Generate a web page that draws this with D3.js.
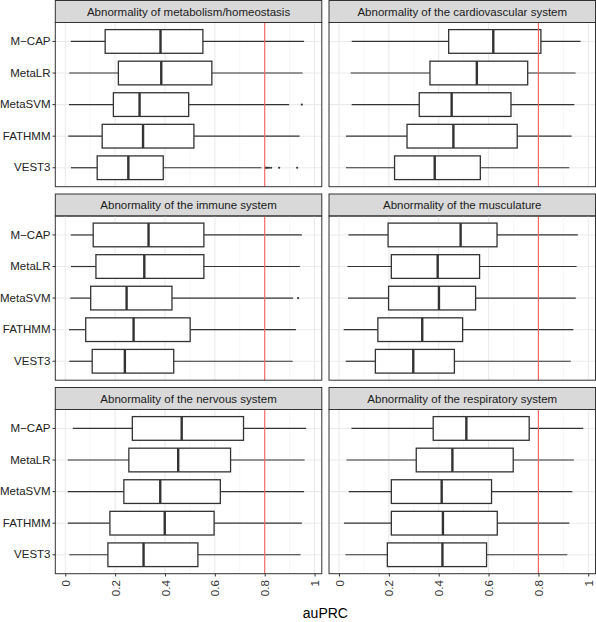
<!DOCTYPE html>
<html><head><meta charset="utf-8">
<script src="https://cdn.jsdelivr.net/npm/d3@7"></script>
<style>body{margin:0;background:#fff}svg{display:block;font-family:"Liberation Sans",Arial,sans-serif}</style>
</head><body>
<svg id="chart" width="596" height="622"></svg>
<script>
const categories = ["M\u2212CAP","MetaLR","MetaSVM","FATHMM","VEST3"];
const panelTitles = ["Abnormality of metabolism/homeostasis","Abnormality of the cardiovascular system","Abnormality of the immune system","Abnormality of the musculature","Abnormality of the nervous system","Abnormality of the respiratory system"];
// [lower whisker, q1, median, q3, upper whisker] per category
const metabolism = [[0.022,0.160,0.382,0.552,0.958],[0.016,0.213,0.385,0.588,0.952],[0.015,0.193,0.298,0.495,0.898],[0.012,0.148,0.312,0.516,0.940],[0.023,0.128,0.253,0.393,0.787]];
const cardiovascular = [[0.051,0.440,0.619,0.810,0.969],[0.047,0.365,0.553,0.757,0.949],[0.051,0.322,0.452,0.690,0.944],[0.028,0.273,0.459,0.715,0.933],[0.028,0.223,0.384,0.567,0.924]];
const immune = [[0.022,0.112,0.334,0.556,0.949],[0.023,0.123,0.317,0.556,0.941],[0.020,0.102,0.246,0.428,0.914],[0.015,0.082,0.274,0.501,0.925],[0.016,0.108,0.239,0.435,0.912]];
const musculature = [[0.038,0.197,0.488,0.634,0.958],[0.034,0.210,0.396,0.564,0.953],[0.036,0.199,0.401,0.548,0.950],[0.019,0.156,0.334,0.496,0.940],[0.027,0.146,0.298,0.463,0.930]];
const nervous = [[0.030,0.269,0.467,0.715,0.966],[0.010,0.255,0.453,0.663,0.960],[0.010,0.235,0.381,0.622,0.958],[0.010,0.179,0.399,0.597,0.949],[0.016,0.171,0.314,0.532,0.944]];
const respiratory = [[0.050,0.378,0.511,0.763,0.980],[0.030,0.310,0.455,0.699,0.942],[0.039,0.210,0.412,0.612,0.936],[0.020,0.210,0.417,0.635,0.924],[0.026,0.194,0.415,0.592,0.916]];
// outliers: [categoryIndex, value]
const metabolismOutliers = [[2,0.949],[4,0.803],[4,0.807],[4,0.812],[4,0.818],[4,0.826],[4,0.858],[4,0.930]];
const immuneOutliers = [[2,0.934]];
const xTicks = [0,0.2,0.4,0.6,0.8,1];
const xMinor = [0.1,0.3,0.5,0.7,0.9];
const threshold = 0.8;

const panelStats = [metabolism,cardiovascular,immune,musculature,nervous,respiratory];
const panelOutliers = [metabolismOutliers,[],immuneOutliers,[],[],[]];

const svg = d3.select("#chart");
const colX = [55.3, 329];
const panelW = 266.5;
const stripH = 22, panelH = 164.2, gap = 7.3, top0 = 0.5;

panelStats.forEach((stats, i) => {
  const col = i % 2, row = Math.floor(i / 2);
  const x0 = colX[col];
  const sy = top0 + row * (stripH + panelH + gap);
  const py = sy + stripH;
  const x = d3.scaleLinear().domain([-0.04, 1.029]).range([x0, x0 + panelW]);
  const y = d3.scaleBand().domain(categories).range([py, py + panelH]).paddingOuter(0.1).paddingInner(0);
  const yc = c => y(c) + y.bandwidth() / 2;
  const bw = y.step() * 0.75;
  const g = svg.append("g");
  // strip
  g.append("rect").attr("x", x0).attr("y", sy).attr("width", panelW).attr("height", stripH)
    .attr("fill", "#D9D9D9").attr("stroke", "#333").attr("stroke-width", 1);
  g.append("text").attr("x", x0 + panelW / 2).attr("y", sy + stripH / 2 + 4)
    .attr("text-anchor", "middle").attr("font-size", 11.5).attr("fill", "#1A1A1A").text(panelTitles[i]);
  // grid
  g.selectAll(".minor").data(xMinor).join("line")
    .attr("x1", d => x(d)).attr("x2", d => x(d)).attr("y1", py).attr("y2", py + panelH)
    .attr("stroke", "#F2F2F2").attr("stroke-width", 0.6);
  g.selectAll(".major").data(xTicks).join("line")
    .attr("x1", d => x(d)).attr("x2", d => x(d)).attr("y1", py).attr("y2", py + panelH)
    .attr("stroke", "#EBEBEB").attr("stroke-width", 1.1);
  g.selectAll(".hgrid").data(categories).join("line")
    .attr("x1", x0).attr("x2", x0 + panelW).attr("y1", d => yc(d)).attr("y2", d => yc(d))
    .attr("stroke", "#EBEBEB").attr("stroke-width", 1.1);
  // boxes
  stats.forEach((s, k) => {
    const cy = yc(categories[k]);
    g.append("line").attr("x1", x(s[0])).attr("x2", x(s[1])).attr("y1", cy).attr("y2", cy)
      .attr("stroke", "#333").attr("stroke-width", 1.2);
    g.append("line").attr("x1", x(s[3])).attr("x2", x(s[4])).attr("y1", cy).attr("y2", cy)
      .attr("stroke", "#333").attr("stroke-width", 1.2);
    g.append("rect").attr("x", x(s[1])).attr("y", cy - bw / 2).attr("width", x(s[3]) - x(s[1])).attr("height", bw)
      .attr("fill", "#fff").attr("stroke", "#333").attr("stroke-width", 1.3);
    g.append("line").attr("x1", x(s[2])).attr("x2", x(s[2])).attr("y1", cy - bw / 2).attr("y2", cy + bw / 2)
      .attr("stroke", "#333").attr("stroke-width", 2.4);
  });
  g.selectAll(".out").data(panelOutliers[i]).join("circle")
    .attr("cx", d => x(d[1])).attr("cy", d => yc(categories[d[0]])).attr("r", 1.1).attr("fill", "#333");
  // threshold line
  g.append("line").attr("x1", x(threshold)).attr("x2", x(threshold)).attr("y1", py).attr("y2", py + panelH)
    .attr("stroke", "#F8605F").attr("stroke-width", 1.1);
  // border
  g.append("rect").attr("x", x0).attr("y", py).attr("width", panelW).attr("height", panelH)
    .attr("fill", "none").attr("stroke", "#333").attr("stroke-width", 1);
  // y axis for left column
  if (col === 0) {
    const ax = g.append("g").attr("transform", `translate(${x0},0)`)
      .call(d3.axisLeft(y).tickSize(2.8).tickPadding(2));
    ax.select(".domain").remove();
    ax.selectAll(".tick line").attr("stroke", "#333");
    ax.selectAll(".tick text").attr("font-size", 11.5).attr("fill", "#222")
      .attr("font-family", "Liberation Sans, Arial, sans-serif");
  }
  // x axis for bottom row
  if (row === 2) {
    const ax = g.append("g").attr("transform", `translate(0,${py + panelH})`)
      .call(d3.axisBottom(x).tickValues(xTicks).tickFormat(d3.format("~g")).tickSize(2.8).tickPadding(2));
    ax.select(".domain").remove();
    ax.selectAll(".tick line").attr("stroke", "#333");
    ax.selectAll(".tick text").attr("font-size", 11.5).attr("fill", "#333")
      .attr("font-family", "Liberation Sans, Arial, sans-serif")
      .attr("transform", "rotate(-90)").attr("text-anchor", "end")
      .attr("x", -6.5).attr("y", 0).attr("dy", "0.35em");
  }
});
svg.append("text").attr("x", (colX[0] + colX[1] + panelW) / 2).attr("y", 618)
  .attr("text-anchor", "middle").attr("font-size", 14).attr("fill", "#000").text("auPRC");
</script>
</body></html>
